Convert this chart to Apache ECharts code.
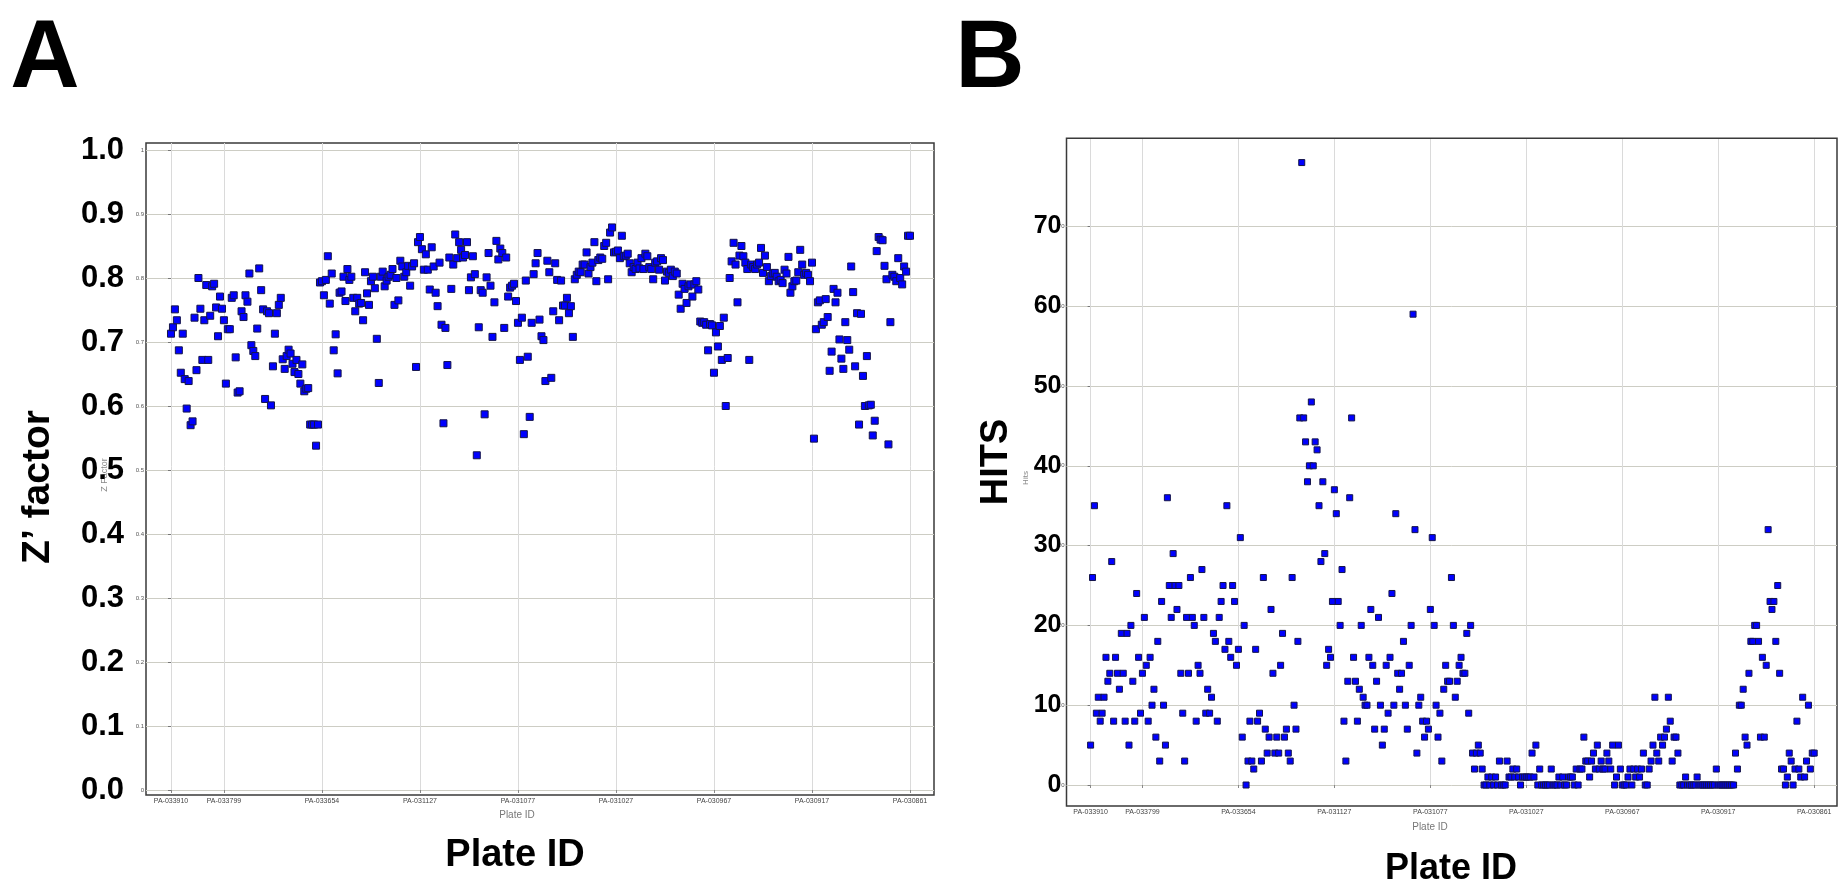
<!DOCTYPE html>
<html><head><meta charset="utf-8">
<script src="https://cdn.jsdelivr.net/npm/echarts@6/dist/echarts.min.js"></script>
<style>html,body{margin:0;padding:0;background:#fff}#c{width:1839px;height:891px}</style>
</head><body><div id="c"></div>
<script>
// ---- data ----
const plateTickIdx = [0, 27, 77, 127, 177, 227, 277, 327, 377];
const plateTickLabels = ['PA-033910', 'PA-033799', 'PA-033654', 'PA-031127', 'PA-031077', 'PA-031027', 'PA-030967', 'PA-030917', 'PA-030861'];

const zFactor = [
  0.713,0.723,0.751,0.734,0.687,0.652,0.713,0.642,0.596,0.639,0.570,0.576,0.738,0.656,0.800,0.752,0.672,0.734,0.789,0.672,0.741,0.787,0.791,0.754,0.709,0.771,0.752,
  0.734,0.635,0.720,0.720,0.769,0.773,0.676,0.621,0.623,0.748,0.739,0.773,0.763,0.807,0.695,0.686,0.678,0.721,0.815,0.781,0.751,0.611,0.748,0.745,0.601,0.662,0.713,0.745,0.758,0.769,0.673,0.658,0.678,0.688,0.682,0.666,0.653,0.672,0.650,0.635,0.665,0.623,0.627,0.628,0.571,0.571,0.571,0.538,0.571,0.793,
  0.795,0.773,0.797,0.834,0.760,0.807,0.687,0.712,0.651,0.777,0.779,0.802,0.764,0.814,0.797,0.802,0.769,0.748,0.769,0.760,0.761,0.734,0.809,0.776,0.758,0.795,0.802,0.784,0.705,0.636,0.802,0.810,0.787,0.796,0.802,0.805,0.814,0.758,0.800,0.765,0.827,0.818,0.802,0.809,0.819,0.788,0.818,0.823,0.661,0.856,
  0.864,0.845,0.813,0.837,0.813,0.782,0.848,0.818,0.777,0.756,0.824,0.727,0.573,0.722,0.664,0.832,0.783,0.821,0.868,0.831,0.856,0.844,0.832,0.836,0.856,0.781,0.801,0.834,0.806,0.523,0.723,0.781,0.777,0.587,0.801,0.839,0.788,0.708,0.762,0.858,0.829,0.846,0.839,0.722,0.832,0.771,0.785,0.788,0.791,0.764,
  0.730,0.672,0.738,0.556,0.796,0.677,0.583,0.730,0.806,0.823,0.839,0.735,0.709,0.703,0.639,0.827,0.809,0.644,0.748,0.823,0.797,0.734,0.796,0.757,0.757,0.769,0.745,0.756,0.708,0.798,0.805,0.810,0.809,0.821,0.821,0.840,0.807,0.817,0.824,0.856,0.795,0.828,0.832,0.830,0.850,0.855,0.798,0.871,0.879,0.840,
  0.841,0.843,0.831,0.866,0.834,0.835,0.838,0.823,0.809,0.817,0.814,0.824,0.815,0.831,0.814,0.838,0.834,0.817,0.814,0.798,0.824,0.826,0.813,0.831,0.828,0.796,0.810,0.808,0.813,0.803,0.810,0.807,0.774,0.752,0.791,0.783,0.761,0.787,0.790,0.771,0.790,0.795,0.782,0.732,0.730,0.731,0.727,0.687,0.728,0.726,
  0.652,0.715,0.693,0.725,0.672,0.738,0.600,0.675,0.800,0.826,0.855,0.821,0.762,0.835,0.850,0.834,0.824,0.814,0.672,0.821,0.817,0.814,0.821,0.824,0.847,0.808,0.835,0.817,0.795,0.803,0.807,0.808,0.802,0.795,0.797,0.792,0.813,0.807,0.833,0.777,0.787,0.795,0.796,0.809,0.844,0.821,0.805,0.808,0.805,0.795,
  0.824,0.549,0.720,0.762,0.765,0.727,0.731,0.767,0.739,0.655,0.685,0.783,0.762,0.777,0.704,0.674,0.658,0.731,0.703,0.688,0.818,0.778,0.662,0.745,0.571,0.744,0.647,0.600,0.678,0.601,0.602,0.554,0.577,0.842,0.864,0.860,0.859,0.819,0.798,0.540,0.731,0.805,0.802,0.795,0.831,0.800,0.790,0.818,0.810,0.866,
  0.866
];

const hits = [
  5,26,35,9,11,8,9,11,16,13,14,28,8,16,14,12,19,14,8,19,5,20,13,8,24,16,9,
  14,21,15,8,16,10,12,6,18,3,23,10,5,36,25,21,29,25,22,25,14,9,3,21,14,26,21,20,8,15,14,27,21,9,12,9,11,19,18,8,21,23,25,17,35,18,16,25,23,15,
  17,31,6,20,0,3,8,3,2,17,8,9,3,26,7,4,6,22,14,4,6,4,15,19,6,7,4,3,26,10,7,18,46,78,46,43,38,40,48,40,43,42,35,28,38,29,15,17,16,23,
  37,34,23,20,27,8,3,13,36,46,16,13,8,12,20,11,10,10,16,22,15,7,13,21,10,5,7,15,9,16,24,10,34,14,12,14,18,10,7,15,20,59,32,4,10,11,8,6,8,7,
  22,31,20,10,6,9,3,12,15,13,13,26,20,11,13,15,16,14,14,19,9,20,4,2,4,5,4,2,0,0,1,0,1,0,1,0,3,0,0,0,3,1,1,2,1,2,1,0,1,1,
  1,1,1,4,1,5,0,2,0,0,0,0,0,2,0,0,0,1,0,1,0,0,1,1,1,0,2,0,2,2,6,3,3,1,3,4,2,5,2,3,2,2,4,3,2,5,0,1,5,2,
  0,0,0,1,2,0,2,1,2,1,2,4,0,0,2,3,5,11,4,3,6,5,6,7,11,8,3,6,6,4,0,0,0,1,0,0,0,0,0,1,0,0,0,0,0,0,0,0,0,2,
  0,0,0,0,0,0,0,0,0,4,2,10,10,12,6,5,14,18,18,20,20,18,6,16,6,15,32,23,22,23,18,25,14,2,2,0,1,4,3,0,2,8,2,1,11,1,3,10,2,4,
  4
];

// ---- chart ----
const FONT = '"Liberation Sans", Arial, Helvetica, sans-serif';
const tickName = {};
plateTickIdx.forEach((v, i) => { tickName[v] = plateTickLabels[i]; });

const chart = echarts.init(document.getElementById('c'), null, { renderer: 'canvas' });

function labelAxis(gridIndex, min, max, offset) {
  return {
    type: 'value', gridIndex, min, max, position: 'bottom', offset,
    axisLine: { show: false },
    axisTick: { show: true, customValues: plateTickIdx, length: 3, lineStyle: { color: '#888' } },
    axisLabel: { customValues: plateTickIdx, formatter: v => tickName[v] || '', fontSize: 7, color: '#444', margin: 3, fontFamily: FONT },
    splitLine: { show: false }
  };
}
function gridTickAxis(gridIndex, min, max, len) {
  return {
    type: 'value', gridIndex, min, max, position: 'bottom',
    axisLine: { show: false },
    axisTick: { show: true, customValues: plateTickIdx, inside: true, length: len, lineStyle: { color: '#dadada', width: 1 } },
    axisLabel: { show: false },
    splitLine: { show: false }
  };
}
function mainY(gridIndex, max, interval) {
  return {
    type: 'value', gridIndex, min: 0, max, interval, position: 'left',
    axisLine: { show: false },
    axisTick: { show: true, length: 3, lineStyle: { color: '#777' } },
    axisLabel: { fontSize: 6, color: '#555', margin: 2, fontFamily: FONT },
    splitLine: { show: true, lineStyle: { color: '#cdcdc4', width: 1 } }
  };
}
function bigY(gridIndex, max, interval, size, margin, pad, fmt) {
  return {
    type: 'value', gridIndex, min: 0, max, interval, position: 'left',
    axisLine: { show: false }, axisTick: { show: false }, splitLine: { show: false },
    axisLabel: { fontSize: size, fontWeight: 'bold', color: '#000', margin, fontFamily: FONT, padding: [pad, 0, 0, 0], formatter: fmt }
  };
}
function txt(x, y, text, size, opts) {
  opts = opts || {};
  return {
    type: 'text', x, y, rotation: opts.rot || 0, silent: true,
    style: {
      text, fontSize: size, fontWeight: opts.weight || 'bold', fontFamily: FONT,
      fill: opts.color || '#000', align: 'center', verticalAlign: 'middle',
      textAlign: 'center', textVerticalAlign: 'middle'
    }
  };
}

const option = {
  animation: false,
  backgroundColor: '#fff',
  grid: [
    { left: 146, top: 150, width: 788, height: 640 },
    { left: 1066.5, top: 226.4, width: 770.5, height: 558.6 },
    { left: 146, top: 143, width: 788, height: 652, show: true, borderColor: '#3a3a3a', borderWidth: 1.5 },
    { left: 1066.5, top: 138.3, width: 770.5, height: 667.7, show: true, borderColor: '#3a3a3a', borderWidth: 1.5 }
  ],
  xAxis: [
    labelAxis(0, -12.75, 389.24, 5),
    gridTickAxis(0, -12.75, 389.24, 647),
    labelAxis(1, -12.56, 388.88, 21),
    gridTickAxis(1, -12.56, 388.88, 646),
    { type: 'value', gridIndex: 2, show: false },
    { type: 'value', gridIndex: 3, show: false }
  ],
  yAxis: [
    mainY(0, 1, 0.1),
    bigY(0, 1, 0.1, 31, 22, 12, v => v.toFixed(1)),
    mainY(1, 70, 10),
    bigY(1, 70, 10, 25, 5, 8, v => String(Math.round(v))),
    { type: 'value', gridIndex: 2, show: false },
    { type: 'value', gridIndex: 3, show: false }
  ],
  series: [
    {
      type: 'scatter', xAxisIndex: 0, yAxisIndex: 0, silent: true, clip: false, z: 3,
      symbol: 'rect', symbolSize: 7,
      itemStyle: { color: '#0000ff', borderColor: '#14144a', borderWidth: 1, opacity: 1 },
      data: zFactor.map((v, i) => [i, v])
    },
    {
      type: 'scatter', xAxisIndex: 2, yAxisIndex: 2, silent: true, clip: false, z: 3,
      symbol: 'rect', symbolSize: 6,
      itemStyle: { color: '#0000ff', borderColor: '#14144a', borderWidth: 1, opacity: 1 },
      data: hits.map((v, i) => [i, v])
    }
  ],
  graphic: [
    txt(45, 61, 'A', 96),
    txt(990, 61, 'B', 96),
    txt(38, 487, 'Z\u2019 factor', 39, { rot: Math.PI / 2 }),
    txt(997, 462, 'HITS', 38, { rot: Math.PI / 2 }),
    txt(515, 856, 'Plate ID', 38),
    txt(1451, 869, 'Plate ID', 36),
    txt(105, 475, 'Z Factor', 9, { rot: Math.PI / 2, weight: 'normal', color: '#888' }),
    txt(1026, 478, 'Hits', 8, { rot: Math.PI / 2, weight: 'normal', color: '#888' }),
    txt(517, 815, 'Plate ID', 10, { weight: 'normal', color: '#777' }),
    txt(1430, 827, 'Plate ID', 10, { weight: 'normal', color: '#777' })
  ]
};
chart.setOption(option);
</script>
</body></html>
